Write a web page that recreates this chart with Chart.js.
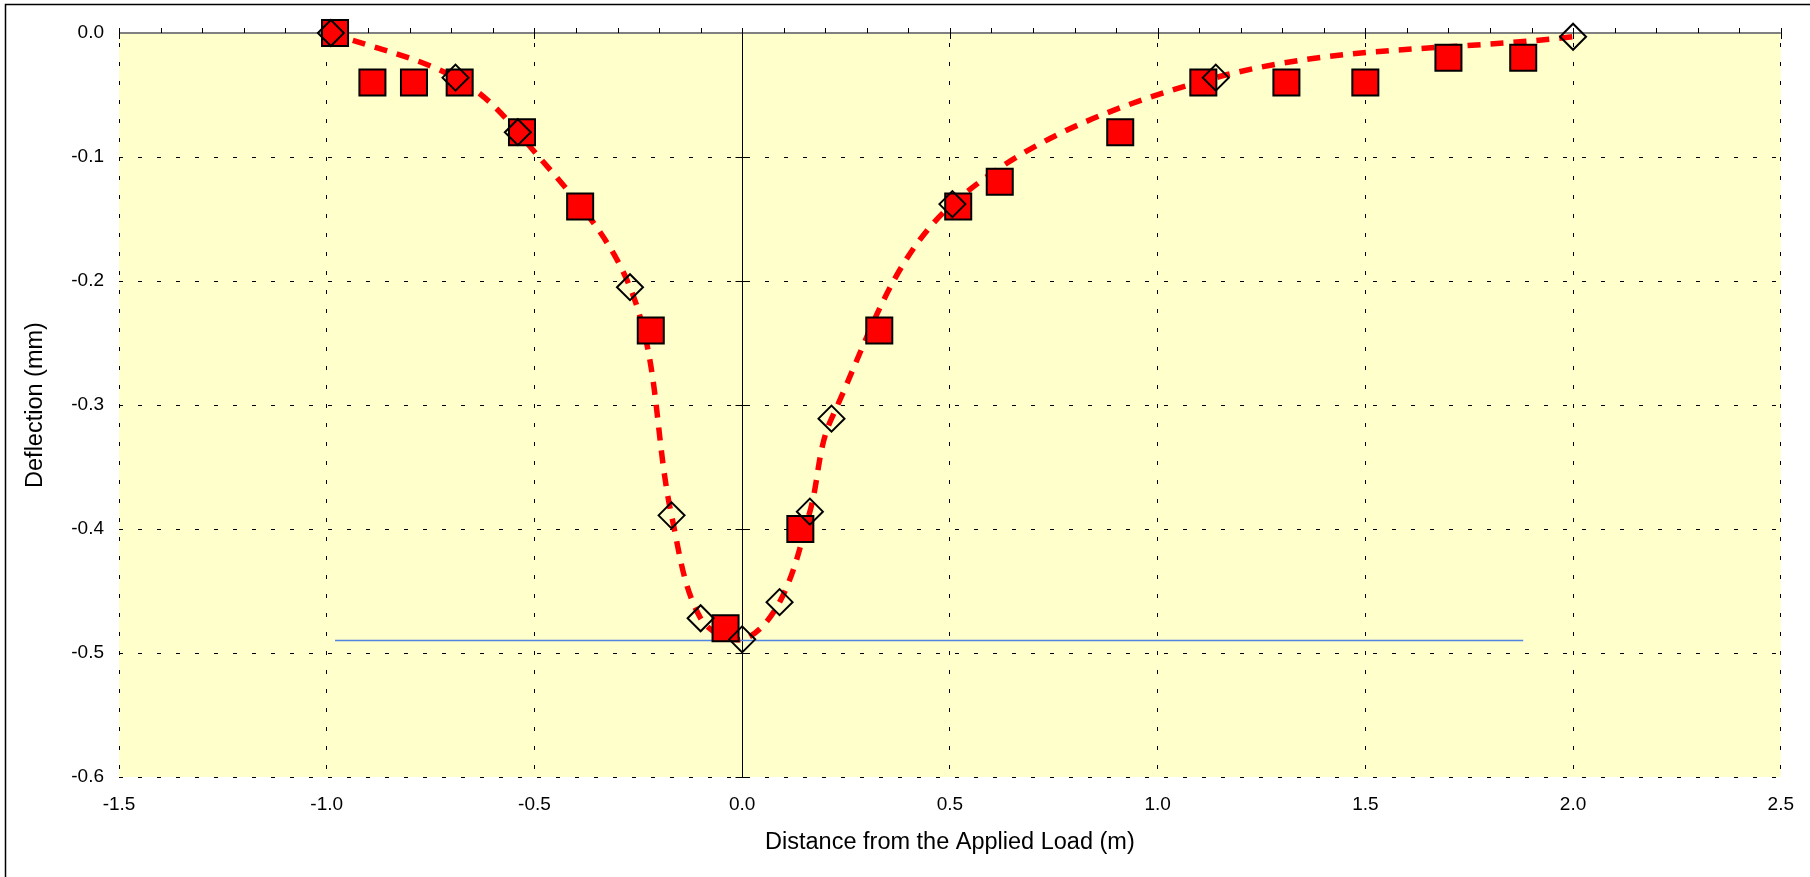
<!DOCTYPE html>
<html>
<head>
<meta charset="utf-8">
<title>Deflection</title>
<script src="https://cdn.jsdelivr.net/npm/chart.js@4.4.1/dist/chart.umd.min.js"></script>
<style>
  html, body { margin: 0; padding: 0; background: #fff; overflow: hidden; }
  canvas { display: block; }
</style>
</head>
<body>
<canvas id="deflectionChart" width="1810" height="877"></canvas>
<script>
// Measured deflections (red squares)
const measuredX = [-0.98, -0.89, -0.79, -0.68, -0.53, -0.39, -0.22, -0.04, 0.14, 0.33, 0.52, 0.62, 0.91, 1.11, 1.31, 1.50, 1.70, 1.88];
const measuredY = [0, -0.04, -0.04, -0.04, -0.08, -0.14, -0.24, -0.48, -0.40, -0.24, -0.14, -0.12, -0.08, -0.04, -0.04, -0.04, -0.02, -0.02];

// Predicted deflections (open diamonds, joined by the dashed curve)
const predictedX = [-0.99, -0.69, -0.54, -0.27, -0.17, -0.10, 0.0, 0.09, 0.163, 0.215, 0.506, 1.14, 2.0];
const predictedY = [0, -0.036, -0.080, -0.205, -0.389, -0.472, -0.489, -0.459, -0.386, -0.311, -0.138, -0.036, -0.003];

// Maximum deflection reference line
const maxLineX = [-0.98, 1.88];
const maxLineY = [-0.49, -0.49];

// Axis ranges and ticks
const xRange = [-1.5, 2.5];
const yRange = [-0.6, 0];
const xStep = 0.5;
const yStep = 0.1;

function toPoints(xs, ys) {
    return xs.map(function (x, i) { return { x: x, y: ys[i] }; });
}

Chart.defaults.font.family = "'Liberation Sans', Arial, sans-serif";
Chart.defaults.color = "#000";

// Yellow plot area, outer frame and the two axes drawn through the origin
const decorations = {
    id: "decorations",
    beforeDraw(chart) {
        const { ctx, chartArea: a } = chart;
        ctx.save();
        ctx.fillStyle = "#FFFFCC";
        ctx.fillRect(a.left, a.top, a.right - a.left, a.bottom - a.top);
        ctx.strokeStyle = "#000";
        ctx.lineWidth = 1.5;
        ctx.strokeRect(5.5, 4.5, chart.width + 20, chart.height + 20);
        ctx.restore();
    },
    beforeDatasetsDraw(chart) {
        const { ctx, chartArea: a, scales } = chart;
        const x0 = Math.round(scales.x.getPixelForValue(0)) + 0.5;
        const y0 = scales.y.getPixelForValue(0);
        ctx.save();

        // vertical axis at x = 0
        ctx.strokeStyle = "#000";
        ctx.lineWidth = 1;
        ctx.beginPath();
        ctx.moveTo(x0, a.top);
        ctx.lineTo(x0, a.bottom);
        for (let i = 0; i <= 6; i++) {
            const py = Math.round(scales.y.getPixelForValue(-i / 10)) + 0.5;
            ctx.moveTo(x0 - 7, py);
            ctx.lineTo(x0 + 7, py);
        }
        ctx.stroke();

        // horizontal axis at y = 0
        ctx.strokeStyle = "#808080";
        ctx.lineWidth = 2;
        ctx.beginPath();
        ctx.moveTo(a.left, y0);
        ctx.lineTo(a.right, y0);
        ctx.stroke();

        ctx.strokeStyle = "#000";
        ctx.lineWidth = 1;
        ctx.beginPath();
        for (let i = -15; i <= 25; i++) {
            const px = Math.round(scales.x.getPixelForValue(i / 10)) + 0.5;
            const major = i % 5 === 0;
            ctx.moveTo(px, y0 - 5);
            ctx.lineTo(px, major ? y0 + 6 : y0);
        }
        ctx.stroke();
        ctx.restore();
    }
};

const ctx = document.getElementById("deflectionChart").getContext("2d");

new Chart(ctx, {
    type: "scatter",
    data: {
        datasets: [
            {
                label: "Predicted",
                data: toPoints(predictedX, predictedY),
                order: 0,
                pointStyle: "rectRot",
                pointRadius: 13,
                pointBackgroundColor: "rgba(0,0,0,0)",
                pointBorderColor: "#000",
                pointBorderWidth: 2,
                showLine: false,
                clip: false
            },
            {
                label: "Measured",
                data: toPoints(measuredX, measuredY),
                order: 1,
                pointStyle: "rect",
                pointRadius: 18.4,
                pointBackgroundColor: "#FF0000",
                pointBorderColor: "#000",
                pointBorderWidth: 2,
                showLine: false,
                clip: false
            },
            {
                label: "Predicted curve",
                data: toPoints(predictedX, predictedY),
                order: 2,
                showLine: true,
                pointRadius: 0,
                borderColor: "#FF0000",
                borderWidth: 5.5,
                borderDash: [13, 10],
                tension: 0.35,
                clip: false
            },
            {
                label: "Maximum",
                data: toPoints(maxLineX, maxLineY),
                order: 3,
                showLine: true,
                pointRadius: 0,
                borderColor: "#5085E0",
                borderWidth: 1.5,
                clip: false
            }
        ]
    },
    options: {
        responsive: false,
        animation: false,
        events: [],
        layout: { padding: { top: 33, right: 28, bottom: 16, left: 17 } },
        plugins: {
            legend: { display: false },
            tooltip: { enabled: false }
        },
        scales: {
            x: {
                type: "linear",
                min: xRange[0],
                max: xRange[1],
                ticks: {
                    stepSize: xStep,
                    padding: 16,
                    font: { size: 19 },
                    maxRotation: 0,
                    callback: function (v) { return v.toFixed(1); }
                },
                grid: { color: "#000", lineWidth: 1, drawTicks: false },
                border: { display: false, dash: [4, 15], dashOffset: 9 },
                title: {
                    display: true,
                    text: "Distance from the Applied Load (m)",
                    font: { size: 23.5 }
                },
                afterFit: function (scale) { scale.height = 84; }
            },
            y: {
                type: "linear",
                min: yRange[0],
                max: yRange[1],
                ticks: {
                    stepSize: yStep,
                    padding: 15,
                    font: { size: 19 },
                    callback: function (v) { return v.toFixed(1); }
                },
                grid: { color: "#000", lineWidth: 1, drawTicks: false },
                border: { display: false, dash: [4, 15], dashOffset: 0 },
                title: {
                    display: true,
                    text: "Deflection (mm)",
                    font: { size: 23.5 }
                },
                afterFit: function (scale) { scale.width = 102; }
            }
        }
    },
    plugins: [decorations]
});
</script>
</body>
</html>
